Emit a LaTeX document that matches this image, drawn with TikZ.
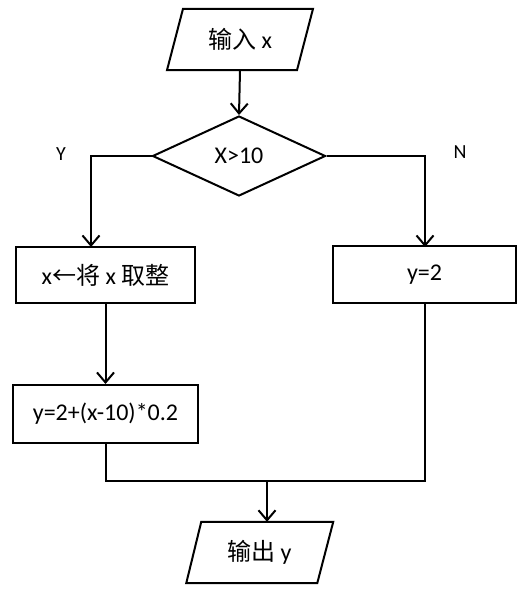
\documentclass[tikz,border=0pt]{standalone}
\usepackage{fontspec}
\setmainfont{Carlito}
\newfontfamily\cjk{Noto Sans CJK SC}
\usetikzlibrary{arrows.meta,shapes.geometric}
\tikzset{
  ln/.style={line width=2pt, line join=miter},
  arr/.style={ln, -{Straight Barb[length=10pt,width=17pt]}},
  boxnode/.style={draw, ln, rectangle, inner sep=0pt, font=\fontsize{24}{28}\selectfont},
  txt/.style={inner sep=0pt, font=\fontsize{24}{28}\selectfont},
  lbl/.style={inner sep=0pt, font=\fontsize{20}{24}\selectfont},
}
\begin{document}
\begin{tikzpicture}[x=1pt,y=-1pt]
\useasboundingbox (0,0) rectangle (526,591);
% input parallelogram
\node[txt, minimum width=146pt, minimum height=61pt] (in) at (240,39.5) {{\cjk 输入} x};
\draw[ln] ([xshift=-57pt]in.north) -- ([xshift=73pt]in.north) -- ([xshift=57pt]in.south) -- ([xshift=-73pt]in.south) -- cycle;
% decision
\node[draw, ln, diamond, inner sep=0pt, minimum width=173pt, minimum height=80pt, txt] (dia) at (239,156) {\raisebox{-4pt}{X>10}};
% boxes
\node[boxnode, minimum width=179pt, minimum height=56pt] (b1) at (105.5,275) {x{\cjk ←将} x {\cjk 取整}};
\node[boxnode, minimum width=185pt, minimum height=58pt] (b2) at (105.5,414) {y=2+(x-10)*0.2};
\node[boxnode, minimum width=183pt, minimum height=57pt] (b3) at (424.5,274.5) {y=2};
% output parallelogram
\node[txt, minimum width=147pt, minimum height=61pt] (out) at (259.25,552.5) {{\cjk 输出} y};
\draw[ln] ([xshift=-58pt]out.north) -- ([xshift=74pt]out.north) -- ([xshift=58pt]out.south) -- ([xshift=-73pt]out.south) -- cycle;
% labels
\node[lbl] (ly) at (61,154) {Y};
\node[lbl] (ln) at (460,152) {N};
% connectors
\coordinate (m) at (267,481);
\coordinate (yl) at (91,247);
\coordinate (nl) at (425,247);
\draw[arr] (in.south) -- (dia.north);
\draw[arr] (dia.west) -| (yl);
\draw[arr] (dia.east) -| (nl);
\draw[arr] (b1.south) -- (b2.north);
\draw[ln] (b2.south) |- (b3.south |- m) -- (b3.south);
\draw[arr] (m) -- (m |- out.north);
\end{tikzpicture}
\end{document}
